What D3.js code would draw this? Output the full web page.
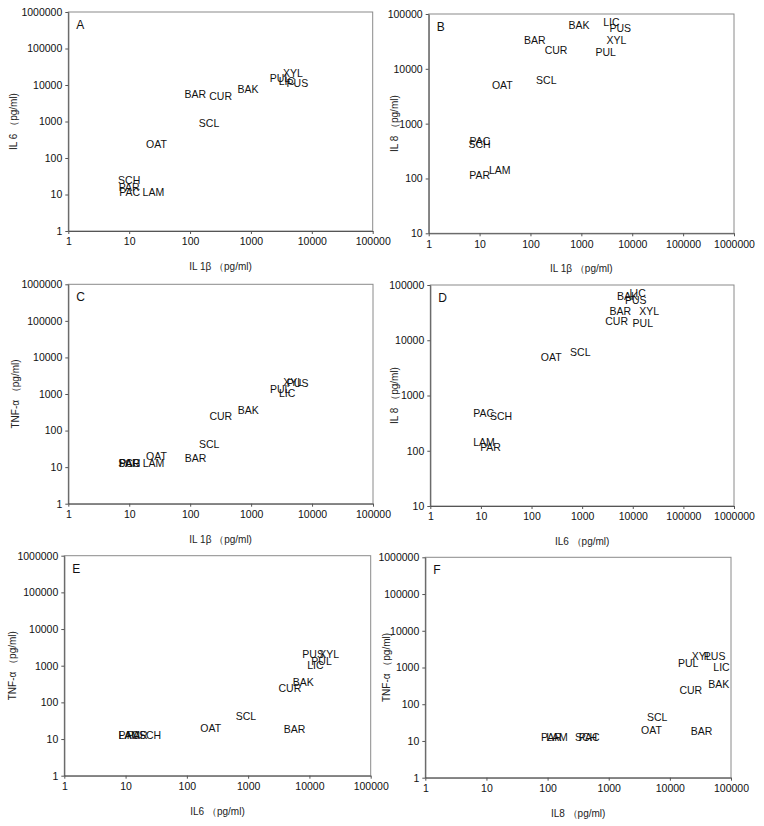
<!DOCTYPE html>
<html><head><meta charset="utf-8">
<script src="https://cdn.jsdelivr.net/npm/d3@7"></script>
<style>
body{margin:0;background:#fff;}
svg{display:block;font-family:"Liberation Sans",Arial,sans-serif;}
</style></head>
<body>
<script>
// ---- data ----
const samples = ["SCH","PAR","PAC","LAM","OAT","SCL","BAR","CUR","BAK","PUL","XYL","LIC","PUS"];
const il1b = [10, 10, 10.2, 25, 28, 205, 122, 318, 895, 3000, 4900, 3900, 5800];
const il6  = [25, 15.5, 11.3, 11.5, 245, 920, 5700, 4800, 7900, 15800, 21000, 12500, 11500];
const il8  = [425, 116, 480, 143, 5000, 6200, 33000, 22000, 63000, 20000, 33000, 70000, 54000];
const tnf  = [12.8, 12.6, 12.9, 12.4, 19.5, 43, 18, 245, 355, 1320, 2050, 1020, 2000];
const tickLabels6 = ["1","10","100","1000","10000","100000","1000000"];

const W = 764, H = 826;
const svg = d3.select("body").append("svg").attr("width", W).attr("height", H);

const panels = [
  {id:"A", x:il1b, y:il6, xd:[1,1e5], yd:[1,1e6], l:68.3, r:372.7, t:12, b:231,
   xt:"IL 1β （pg/ml)", yt:"IL 6 （pg/ml)", ytx:13},
  {id:"B", x:il1b, y:il8, xd:[1,1e6], yd:[10,1e5], l:428.7, r:734, t:14, b:233.3,
   xt:"IL 1β （pg/ml)", yt:"IL 8 （pg/ml)", ytx:394},
  {id:"C", x:il1b, y:tnf, xd:[1,1e5], yd:[1,1e6], l:68.3, r:373, t:284.3, b:503.7,
   xt:"IL 1β （pg/ml)", yt:"TNF-α （pg/ml)", ytx:15},
  {id:"D", x:il6, y:il8, xd:[1,1e6], yd:[10,1e5], l:430.3, r:734, t:285, b:506,
   xt:"IL6 （pg/ml)", yt:"IL 8 （pg/ml)", ytx:394},
  {id:"E", x:il6, y:tnf, xd:[1,1e5], yd:[1,1e6], l:64.3, r:370.7, t:555.7, b:775.7,
   xt:"IL6 （pg/ml)", yt:"TNF-α （pg/ml)", ytx:12},
  {id:"F", x:il8, y:tnf, xd:[1,1e5], yd:[1,1e6], l:425.3, r:731, t:557.3, b:777.7,
   xt:"IL8 （pg/ml)", yt:"TNF-α （pg/ml)", ytx:386}
];

panels.forEach(p => {
  const xs = d3.scaleLog().domain(p.xd).range([p.l, p.r]);
  const ys = d3.scaleLog().domain(p.yd).range([p.b, p.t]);
  const g = svg.append("g");

  // frame
  g.append("rect").attr("x", p.l).attr("y", p.t).attr("width", p.r - p.l).attr("height", p.b - p.t)
    .attr("fill", "none").attr("stroke", "#8a8a8a").attr("stroke-width", 1);

  const xTicks = d3.range(Math.round(Math.log10(p.xd[0])), Math.round(Math.log10(p.xd[1])) + 1).map(e => Math.pow(10, e));
  const yTicks = d3.range(Math.round(Math.log10(p.yd[0])), Math.round(Math.log10(p.yd[1])) + 1).map(e => Math.pow(10, e));

  const xAxis = d3.axisBottom(xs).tickValues(xTicks).tickSizeInner(3).tickSizeOuter(0).tickPadding(4)
    .tickFormat(d => tickLabels6[Math.round(Math.log10(d))]);
  const yAxis = d3.axisLeft(ys).tickValues(yTicks).tickSizeInner(3).tickSizeOuter(0).tickPadding(3)
    .tickFormat(d => tickLabels6[Math.round(Math.log10(d))]);

  const gx = g.append("g").attr("transform", `translate(0,${p.b})`).call(xAxis);
  const gy = g.append("g").attr("transform", `translate(${p.l},0)`).call(yAxis);
  [gx, gy].forEach(a => {
    a.select(".domain").attr("stroke", "#555");
    a.selectAll(".tick line").attr("stroke", "#555");
    a.selectAll("text").attr("font-size", 10.5).attr("fill", "#111")
      .attr("font-family", '"Liberation Sans",Arial,sans-serif');
  });

  // panel letter
  g.append("text").attr("x", p.l + 8).attr("y", p.t + 17).attr("font-size", 12).attr("fill", "#111").text(p.id);

  // axis titles
  g.append("text").attr("x", (p.l + p.r) / 2).attr("y", p.b + 39).attr("text-anchor", "middle")
    .attr("font-size", 10).attr("fill", "#222").text(p.xt);
  g.append("text").attr("transform", `translate(${p.ytx},${(p.t + p.b) / 2}) rotate(-90)`)
    .attr("text-anchor", "middle").attr("dy", "0.35em")
    .attr("font-size", 10).attr("fill", "#222").text(p.yt);

  // data labels
  g.selectAll("text.pt").data(samples).join("text").attr("class", "pt")
    .attr("x", (d, i) => xs(p.x[i])).attr("y", (d, i) => ys(p.y[i]))
    .attr("text-anchor", "middle").attr("dy", "0.36em")
    .attr("font-size", 10.5).attr("fill", "#111").text(d => d);
});
</script>
</body></html>
